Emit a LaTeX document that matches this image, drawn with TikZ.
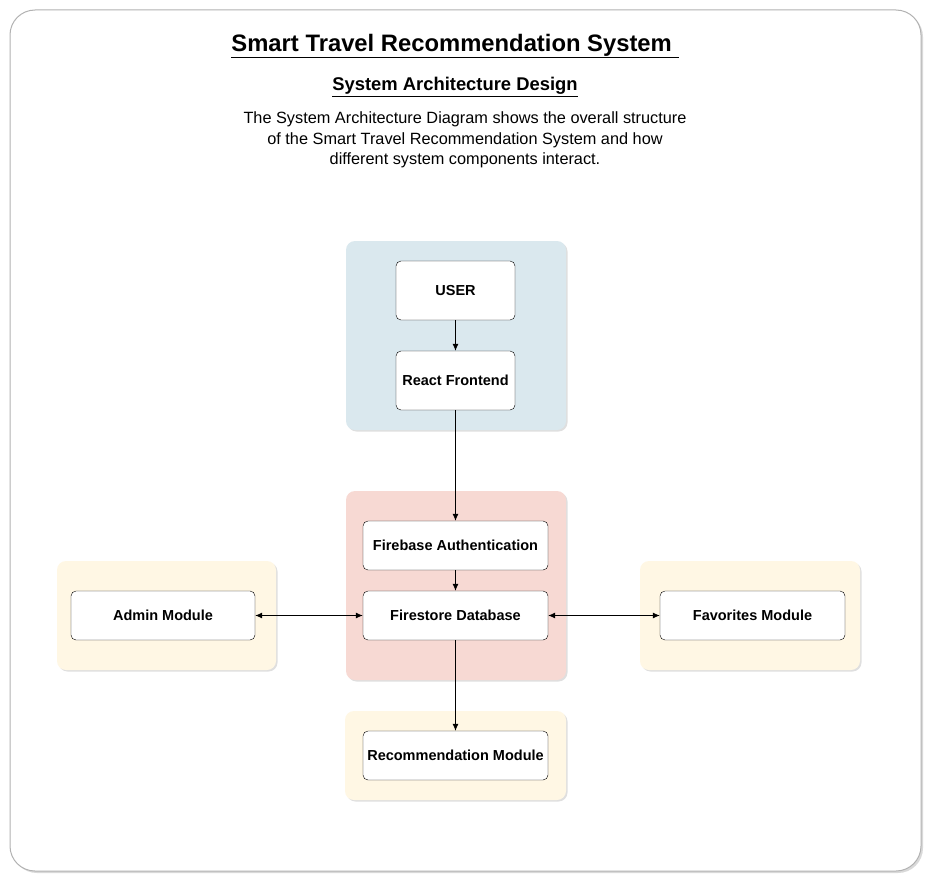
\documentclass[tikz,border=0pt]{standalone}
\usepackage{fontspec}
\setmainfont{Liberation Sans}
\usetikzlibrary{shadows,arrows.meta}
\definecolor{blueg}{HTML}{DAE8EE}
\definecolor{redg}{HTML}{F7D9D3}
\definecolor{yelg}{HTML}{FFF7E4}
\begin{document}
\begin{tikzpicture}[x=1pt,y=-1pt,
 grp/.style={draw=none,rounded corners=9pt,drop shadow={shadow xshift=1.5pt,shadow yshift=-1.5pt,opacity=.25}},
 box/.style={draw=black,fill=white,rounded corners=5pt,inner sep=0pt,font=\fontsize{14.5}{17}\selectfont\bfseries},
 arr/.style={-{Latex[length=7pt,width=6pt]},line width=0.8pt},
 barr/.style={{Latex[length=7pt,width=6pt]}-{Latex[length=7pt,width=6pt]},line width=0.8pt}]
\useasboundingbox (0,0) rectangle (941,891);
\draw[draw=black!30,line width=1pt,fill=white,rounded corners=25pt,drop shadow={shadow xshift=2pt,shadow yshift=-2pt,opacity=.3}] (10,10) rectangle (921,871);
\node[font=\fontsize{23.8}{28}\selectfont\bfseries] (t) at (455,46) {\underline{Smart Travel Recommendation System\ }};
\node[font=\fontsize{18.4}{22}\selectfont\bfseries] (s) at (455,87) {\underline{System Architecture Design}};
\node[font=\fontsize{16.3}{20.5}\selectfont,align=center] (d) at (465,140) {The System Architecture Diagram shows the overall structure\\of the Smart Travel Recommendation System and how\\different system components interact.};
\fill[grp,fill=blueg] (346,241) rectangle (566,430);
\fill[grp,fill=redg] (346,491) rectangle (566,680);
\fill[grp,fill=yelg] (57,561) rectangle (276,670);
\fill[grp,fill=yelg] (640,561) rectangle (860,670);
\fill[grp,fill=yelg] (345,711) rectangle (566,800);
\node[box,minimum width=119pt,minimum height=59pt] (user) at (455.5,290.5) {USER};
\node[box,minimum width=119pt,minimum height=59pt] (react) at (455.5,380.5) {React Frontend};
\node[box,minimum width=185pt,minimum height=49pt] (auth) at (455.5,545.5) {Firebase Authentication};
\node[box,minimum width=185pt,minimum height=49pt] (fs) at (455.5,615.5) {Firestore Database};
\node[box,minimum width=184pt,minimum height=49pt] (admin) at (163,615.5) {Admin Module};
\node[box,minimum width=185pt,minimum height=49pt] (fav) at (752.5,615.5) {Favorites Module};
\node[box,minimum width=185pt,minimum height=49pt] (rec) at (455.5,755.5) {Recommendation Module};
\draw[arr] (user) -- (react);
\draw[arr] (react) -- (auth);
\draw[arr] (auth) -- (fs);
\draw[barr] (admin) -- (fs);
\draw[barr] (fs) -- (fav);
\draw[arr] (fs) -- (rec);
\end{tikzpicture}
\end{document}
